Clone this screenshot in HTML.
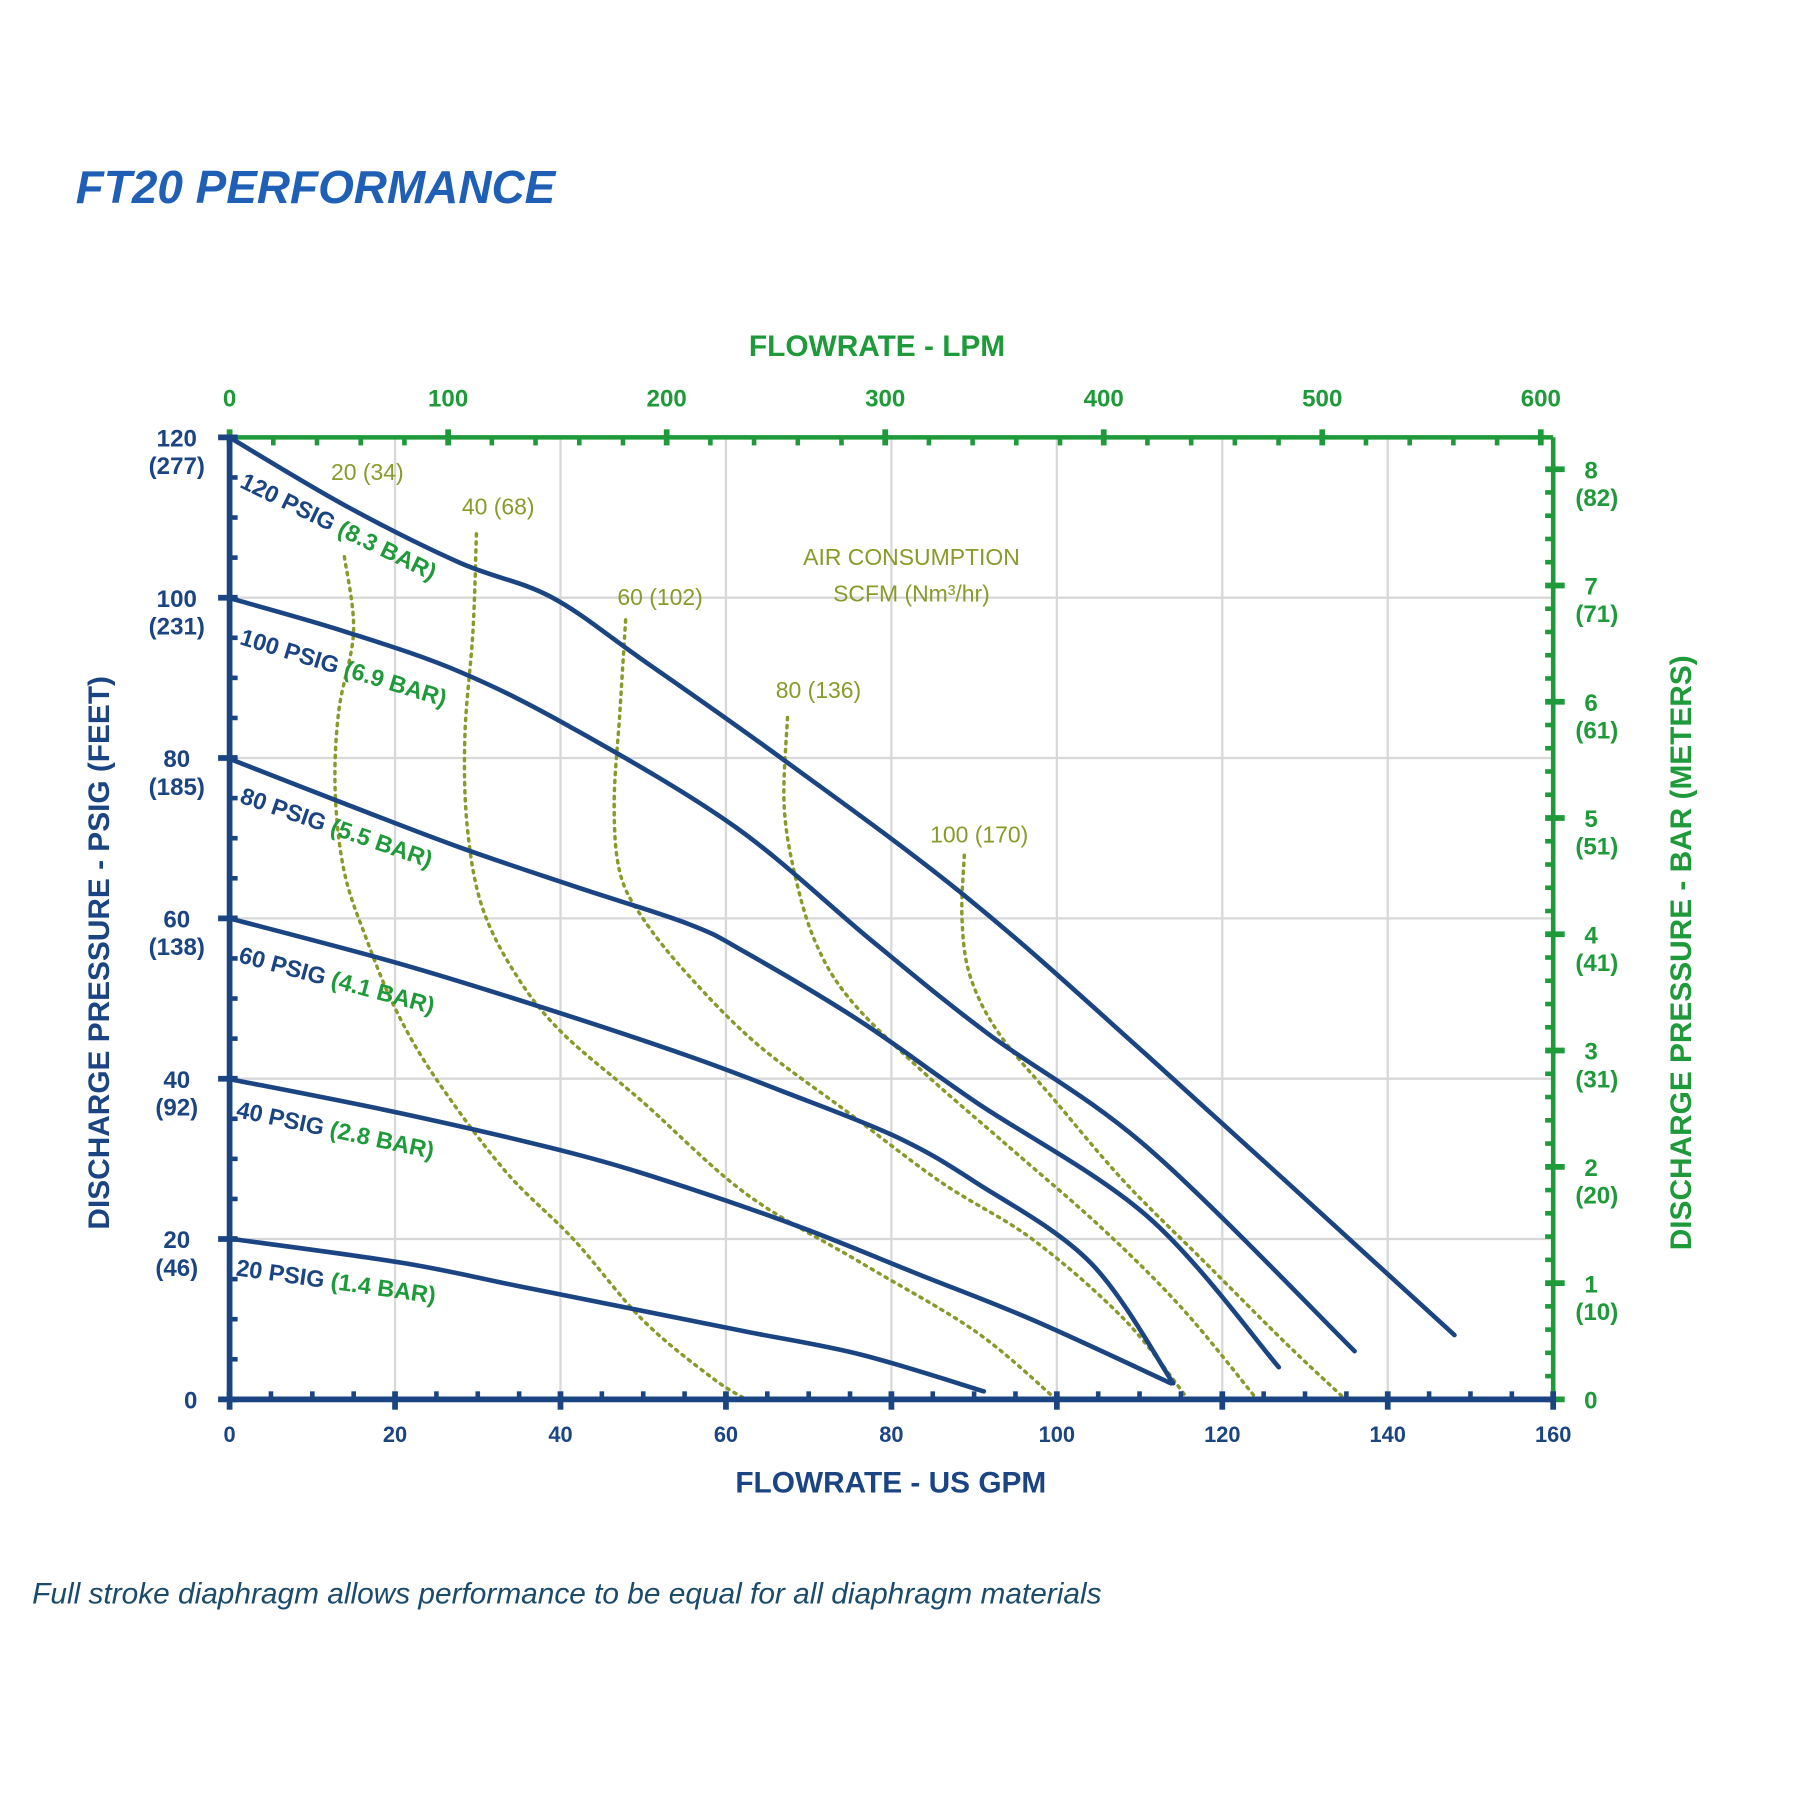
<!DOCTYPE html>
<html><head><meta charset="utf-8"><style>
html,body{margin:0;padding:0;background:#fff;}
svg{display:block;}
text{font-family:"Liberation Sans",sans-serif;}
</style></head><body>
<svg id="s" width="1800" height="1800" viewBox="0 0 1568 1568" xmlns="http://www.w3.org/2000/svg">
<rect width="1568" height="1568" fill="#fff"/>
<text x="66" y="177" font-size="40" font-weight="bold" font-style="italic" fill="#1f5fb5">FT20 PERFORMANCE</text>
<g id="grid" stroke="#d8d8d8" stroke-width="2"></g>
<g id="dots" fill="none" stroke="#8a9a2a" stroke-width="3" stroke-dasharray="2 5" stroke-linecap="round"></g>
<g id="curves" fill="none" stroke="#1b4482" stroke-width="4" stroke-linecap="round"></g>
<g id="axes"></g>
<g font-size="20" fill="#8a9a2a" text-anchor="middle">
<text x="320" y="418">20 (34)</text>
<text x="434" y="448">40 (68)</text>
<text x="575" y="527">60 (102)</text>
<text x="713" y="608">80 (136)</text>
<text x="853" y="734">100 (170)</text>
<text x="794" y="492">AIR CONSUMPTION</text>
<text x="794" y="524">SCFM (Nm³/hr)</text>
</g>
<g font-size="20.5" font-weight="bold" fill="#1b4482">
<text transform="translate(208,424) rotate(26)">120 PSIG <tspan fill="#1e9a3a">(8.3 BAR)</tspan></text>
<text transform="translate(208,561) rotate(17)">100 PSIG <tspan fill="#1e9a3a">(6.9 BAR)</tspan></text>
<text transform="translate(208,699) rotate(19)">80 PSIG <tspan fill="#1e9a3a">(5.5 BAR)</tspan></text>
<text transform="translate(207,838) rotate(15)">60 PSIG <tspan fill="#1e9a3a">(4.1 BAR)</tspan></text>
<text transform="translate(205,973) rotate(12)">40 PSIG <tspan fill="#1e9a3a">(2.8 BAR)</tspan></text>
<text transform="translate(205,1111) rotate(8)">20 PSIG <tspan fill="#1e9a3a">(1.4 BAR)</tspan></text>
</g>
<text x="776" y="1300" font-size="26" font-weight="bold" fill="#1b4482" text-anchor="middle">FLOWRATE - US GPM</text>
<text x="764" y="310" font-size="26" font-weight="bold" fill="#1e9a3a" text-anchor="middle">FLOWRATE - LPM</text>
<text transform="translate(95,830) rotate(-90)" font-size="26" font-weight="bold" fill="#1b4482" text-anchor="middle">DISCHARGE PRESSURE  - PSIG (FEET)</text>
<text transform="translate(1473,830) rotate(-90)" font-size="26" font-weight="bold" fill="#1e9a3a" text-anchor="middle">DISCHARGE PRESSURE - BAR (METERS)</text>
<text x="28" y="1397" font-size="26" font-style="italic" fill="#1b4a6a">Full stroke diaphragm allows performance to be equal for all diaphragm materials</text>
</svg>
<script>
var NS="http://www.w3.org/2000/svg";
function el(p,t,a,txt){var e=document.createElementNS(NS,t);for(var k in a)e.setAttribute(k,a[k]);if(txt!==undefined)e.textContent=txt;document.getElementById(p).appendChild(e);return e;}
var X0=200,X1=1353,Y0=1219,Y1=381;
function gx(v){return X0+(X1-X0)*v/160;}
function gy(v){return Y0-(Y0-Y1)*v/120;}
for(var i=1;i<8;i++)el('grid','line',{x1:gx(i*20),x2:gx(i*20),y1:Y1,y2:Y0});
for(var i=1;i<6;i++)el('grid','line',{x1:X0,x2:X1,y1:gy(i*20),y2:gy(i*20)});
function smooth(pts){var d="M"+pts[0][0]+","+pts[0][1];for(var i=0;i<pts.length-1;i++){var p0=pts[i-1]||pts[i],p1=pts[i],p2=pts[i+1],p3=pts[i+2]||p2;d+=" C"+(p1[0]+(p2[0]-p0[0])/6)+","+(p1[1]+(p2[1]-p0[1])/6)+" "+(p2[0]-(p3[0]-p1[0])/6)+","+(p2[1]-(p3[1]-p1[1])/6)+" "+p2[0]+","+p2[1];}return d;}
var C=[
[[200,381],[300,440],[400,490],[480,520],[560,575],[680,660],[840,780],[1000,920],[1267,1163]],
[[200,521],[300,550],[400,585],[500,635],[640,720],[760,820],[860,900],[1000,1000],[1180,1177]],
[[200,661],[300,700],[400,738],[500,772],[600,805],[650,830],[750,890],[850,960],[1000,1060],[1114,1191]],
[[200,800],[350,840],[480,880],[600,920],[680,950],[780,990],[850,1030],[950,1100],[1022,1205]],
[[200,940],[350,970],[500,1005],[600,1035],[700,1070],[800,1110],[900,1150],[1020,1205]],
[[200,1079],[350,1100],[450,1120],[550,1140],[650,1160],[750,1180],[857,1212]]];
C.forEach(function(p){el('curves','path',{d:smooth(p)});});
var D=[
[[300,485],[308,550],[295,620],[292,690],[300,760],[320,820],[345,880],[380,940],[440,1020],[500,1080],[560,1150],[620,1200],[650,1219]],
[[415,465],[412,550],[405,640],[407,720],[420,790],[450,850],[490,900],[560,960],[650,1040],[750,1100],[850,1160],[920,1219]],
[[545,540],[540,620],[535,700],[540,760],[560,800],[600,850],[660,910],[740,970],[820,1030],[900,1080],[980,1150],[1035,1219]],
[[686,625],[683,700],[692,760],[710,820],[740,870],[800,930],[880,1000],[960,1070],[1030,1140],[1095,1219]],
[[840,745],[838,800],[845,850],[870,900],[920,960],[980,1030],[1050,1100],[1120,1170],[1172,1219]]];
D.forEach(function(p){el('dots','path',{d:smooth(p)});});
var N="#1b4482",G="#1e9a3a";
el('axes','line',{x1:X0,x2:X1,y1:Y1,y2:Y1,stroke:G,"stroke-width":4});
for(var l=0;l<=600;l+=20){var x=X0+(X1-X0)*l/605.67;if(x>X1)break;var maj=l%100==0;el('axes','line',{x1:x,x2:x,y1:maj?Y1-7:Y1,y2:Y1+7,stroke:G,"stroke-width":maj?5:4});if(maj)el('axes','text',{x:x,y:354,"font-size":21,"font-weight":"bold",fill:G,"text-anchor":"middle"},l);}
el('axes','line',{x1:X1,x2:X1,y1:Y1,y2:Y0,stroke:G,"stroke-width":4});
var mets=[0,10,20,31,41,51,61,71,82];
for(var b=0;b<=8.01;b+=0.2){var y=Y0-(Y0-Y1)*b*14.5038/120;var maj=Math.abs(b-Math.round(b))<0.01;el('axes','line',{x1:X1-7,x2:maj?X1+10:X1,y1:y,y2:y,stroke:G,"stroke-width":maj?5:4});if(maj){var r=Math.round(b);if(r==0)el('axes','text',{x:1380,y:y+8,"font-size":21,"font-weight":"bold",fill:G},0);else{el('axes','text',{x:1386,y:y+8,"font-size":21,"font-weight":"bold",fill:G,"text-anchor":"middle"},r);el('axes','text',{x:1391,y:y+32,"font-size":21,"font-weight":"bold",fill:G,"text-anchor":"middle"},"("+mets[r]+")");}}}
el('axes','line',{x1:X0,x2:X0,y1:Y1-2,y2:Y0+2,stroke:N,"stroke-width":5});
var ft=[0,46,92,138,185,231,277];
for(var p=0;p<=120;p+=5){var y=gy(p);var maj=p%20==0;el('axes','line',{x1:maj?X0-10:X0,x2:X0+7,y1:y,y2:y,stroke:N,"stroke-width":maj?5:4});if(maj){if(p==0)el('axes','text',{x:172,y:y+8,"font-size":21,"font-weight":"bold",fill:N,"text-anchor":"end"},0);else{el('axes','text',{x:154,y:y+8,"font-size":21,"font-weight":"bold",fill:N,"text-anchor":"middle"},p);el('axes','text',{x:154,y:y+32,"font-size":21,"font-weight":"bold",fill:N,"text-anchor":"middle"},"("+ft[p/20]+")");}}}
el('axes','line',{x1:X0-2,x2:X1+2,y1:Y0,y2:Y0,stroke:N,"stroke-width":5});
for(var g=0;g<=160;g+=5){var x=gx(g);var maj=g%20==0;el('axes','line',{x1:x,x2:x,y1:Y0-7,y2:maj?Y0+9:Y0,stroke:N,"stroke-width":maj?5:4});if(maj)el('axes','text',{x:x,y:1256,"font-size":19,"font-weight":"bold",fill:N,"text-anchor":"middle"},g);}
</script>
</body></html>
